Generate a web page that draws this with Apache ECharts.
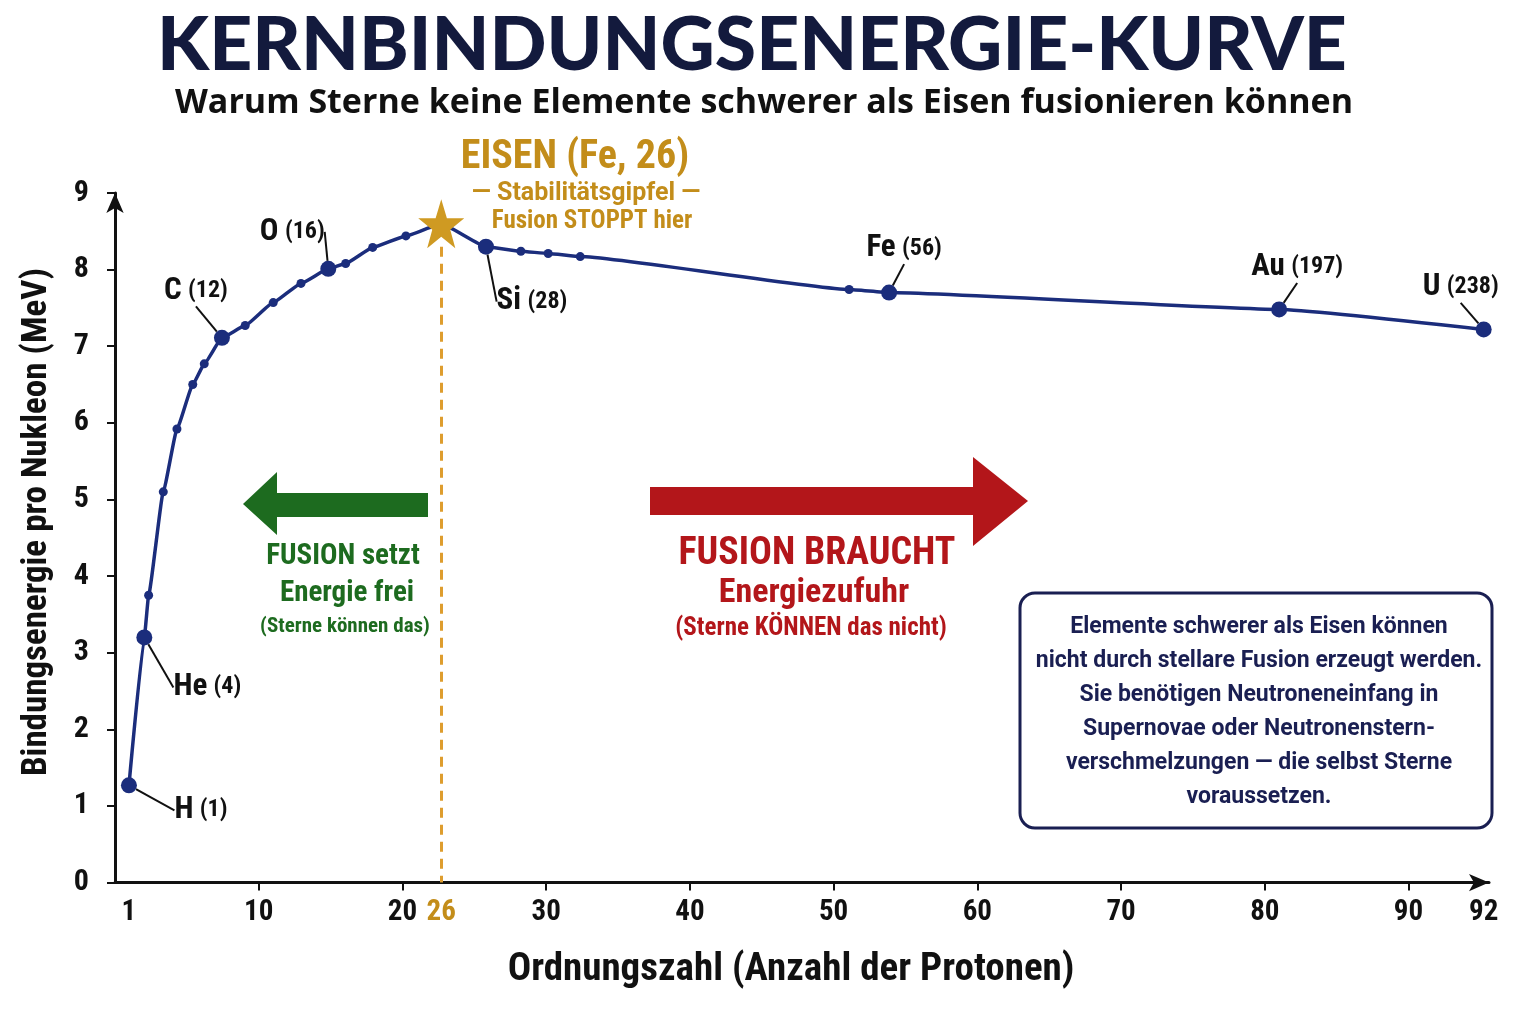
<!DOCTYPE html>
<html><head><meta charset="utf-8">
<script src="https://cdn.jsdelivr.net/npm/echarts@6/dist/echarts.min.js"></script>
<style>html,body{margin:0;padding:0;background:#fff}#c{width:1536px;height:1024px}</style>
</head><body><div id="c"></div>
<script>
// ---- data ----
const xPos   = [0.97, 2.04, 2.34, 3.36, 4.31, 5.41, 6.21, 7.44, 9.06, 11.01, 12.94, 14.84, 16.05, 17.93, 20.24, 22.70, 25.81, 28.24, 30.14, 32.37, 51.08, 53.86, 81.0, 95.23];
const energy = [1.27, 3.20, 3.75, 5.10, 5.92, 6.50, 6.77, 7.11, 7.27, 7.57, 7.82, 8.01, 8.08, 8.29, 8.44, 8.60, 8.30, 8.24, 8.21, 8.17, 7.74, 7.70, 7.48, 7.22];
const elementSym = ['H','He','','','','','','C','','','','O','','','','','Si','','','','','Fe','Au','U'];
const massNum    = [1, 4, null,null,null,null,null, 12, null,null,null, 16, null,null,null, null, 28, null,null,null, null, 56, 197, 238];
const xTickValues = [10, 20, 30, 40, 50, 60, 70, 80, 90];
const yTickValues = [0, 1, 2, 3, 4, 5, 6, 7, 8, 9];
const firstLabel = '1', peakLabel = '26', lastLabel = '92';

const peakIdx = energy.indexOf(Math.max(...energy));
const lastIdx = xPos.length - 1;

// ---- styles ----
const NAVY = '#1b2d7c', GOLD = '#c38d1a', GREEN = '#1d6b1f', RED = '#b3161a', BOXNAVY = '#1a1f52';
const COND = "'Roboto Condensed','Liberation Sans Narrow','DejaVu Sans Condensed',Roboto,sans-serif";
const REG = "Roboto,'Noto Sans',sans-serif";
const labelOffsets = { // label centre offset from point (px)
  0: [72, 25], 1: [63, 50], 7: [-26, -47], 11: [-36, -37], 16: [46, 55], 21: [15, -44], 22: [18, -42], 23: [-23, -42]
};

const labelAt = [xPos[0]].concat(xTickValues.slice(0, 2), [xPos[peakIdx]], xTickValues.slice(2), [xPos[lastIdx]]);
function xLabelFmt(v) {
  if (v === xPos[0]) return firstLabel;
  if (v === xPos[peakIdx]) return '{g|' + peakLabel + '}';
  if (v === xPos[lastIdx]) return lastLabel;
  return String(v);
}

const lineData = xPos.map((x, i) => {
  const item = { value: [x, energy[i]] };
  if (elementSym[i]) {
    item.label = { show: true };
    item.labelLine = { show: true };
  }
  return item;
});

const chart = echarts.init(document.getElementById('c'), null, { renderer: 'canvas' });
const starPath = 'path://M50,0 L61.8,35.1 L98.1,35.1 L68.8,56.7 L79.4,90.5 L50,69.6 L20.6,90.5 L31.2,56.7 L1.9,35.1 L38.2,35.1 Z';

chart.setOption({
  backgroundColor: '#ffffff',
  animation: false,
  grid: { left: 115, right: 47, top: 193, bottom: 141.4, containLabel: false },
  xAxis: {
    type: 'value', min: 0, max: 95.6,
    splitLine: { show: false },
    axisLine: { show: true, lineStyle: { color: '#111', width: 3 }, symbol: ['none', 'arrow'], symbolSize: [13, 20] },
    axisTick: { show: true, customValues: xTickValues, length: 8, lineStyle: { color: '#111', width: 2 } },
    axisLabel: {
      customValues: labelAt, formatter: xLabelFmt, margin: 16,
      fontFamily: COND, fontWeight: 'bold', fontSize: 29, color: '#111',
      rich: { g: { fontFamily: COND, fontWeight: 'bold', fontSize: 29, color: GOLD } }
    },
    name: 'Ordnungszahl (Anzahl der Protonen)', nameLocation: 'middle', nameGap: 68,
    nameTextStyle: { fontFamily: COND, fontWeight: 'bold', fontSize: 39, color: '#111', padding: [0, 22, 0, 0] }
  },
  yAxis: {
    type: 'value', min: 0, max: 9, interval: 1,
    splitLine: { show: false },
    axisLine: { show: true, lineStyle: { color: '#111', width: 3 }, symbol: ['none', 'arrow'], symbolSize: [13, 20] },
    axisTick: { show: true, length: 8, lineStyle: { color: '#111', width: 2 } },
    axisLabel: { customValues: yTickValues, margin: 26, fontFamily: COND, fontWeight: 'bold', fontSize: 30, color: '#111' }
  },
  series: [
    {
      type: 'line', data: lineData, smooth: 0.12, smoothMonotone: 'x', showAllSymbol: true, z: 3,
      symbol: 'circle',
      symbolSize: (v, p) => p.dataIndex === peakIdx ? 0 : (elementSym[p.dataIndex] ? 16 : 9),
      lineStyle: { color: NAVY, width: 3.5 },
      itemStyle: { color: NAVY, borderWidth: 0 },
      label: {
        show: false, position: 'inside',
        formatter: p => '{e|' + elementSym[p.dataIndex] + '} {n|(' + massNum[p.dataIndex] + ')}',
        rich: {
          e: { fontFamily: COND, fontWeight: 'bold', fontSize: 31, color: '#111' },
          n: { fontFamily: COND, fontWeight: 'bold', fontSize: 24, color: '#111', padding: [0, 0, 0, 3] }
        }
      },
      labelLine: { show: false, lineStyle: { color: '#111', width: 2 } },
      labelLayout: p => {
        const o = labelOffsets[p.dataIndex];
        return o ? { dx: o[0], dy: o[1] } : {};
      }
    },
    {
      type: 'scatter', z: 5, silent: true,
      data: [[xPos[peakIdx], energy[peakIdx]]],
      symbol: starPath, symbolSize: [46, 49],
      itemStyle: { color: '#cf9a22', opacity: 1 },
      markLine: {
        silent: true, symbol: ['none', 'none'], z: 1,
        lineStyle: { color: '#de9d2e', width: 3, type: [10, 7], opacity: 1 },
        label: { show: false },
        data: [[{ coord: [xPos[peakIdx], energy[peakIdx] - 0.3] }, { coord: [xPos[peakIdx], 0] }]]
      }
    }
  ],
  graphic: [
    { type: 'text', x: 752, y: 46, style: { text: 'KERNBINDUNGSENERGIE-KURVE', font: '900 75px Lato, "Open Sans", sans-serif', fill: '#131a3d', textAlign: 'center', textVerticalAlign: 'middle' } },
    { type: 'text', x: 764, y: 103, style: { text: 'Warum Sterne keine Elemente schwerer als Eisen fusionieren können', font: 'bold 34px "Open Sans", sans-serif', fill: '#111', textAlign: 'center', textVerticalAlign: 'middle' } },
    { type: 'text', x: 37, y: 522, rotation: Math.PI / 2, style: { text: 'Bindungsenergie pro Nukleon (MeV)', font: 'bold 35px ' + COND, fill: '#111', textAlign: 'center', textVerticalAlign: 'middle' } },
    { type: 'text', x: 575, y: 158, style: { text: 'EISEN (Fe, 26)', font: 'bold 40px ' + COND, fill: GOLD, textAlign: 'center', textVerticalAlign: 'middle' } },
    { type: 'text', x: 586, y: 194, style: { text: '— Stabilitätsgipfel —', font: 'bold 25px ' + REG, fill: GOLD, textAlign: 'center', textVerticalAlign: 'middle' } },
    { type: 'text', x: 592, y: 222, style: { text: 'Fusion STOPPT hier', font: 'bold 25px ' + COND, fill: GOLD, textAlign: 'center', textVerticalAlign: 'middle' } },
    // green arrow
    { type: 'polygon', shape: { points: [[428, 493], [277, 493], [277, 472], [243, 504], [277, 535], [277, 517], [428, 517]] }, style: { fill: GREEN } },
    { type: 'text', x: 343, y: 557, style: { text: 'FUSION setzt', font: 'bold 29px ' + COND, fill: GREEN, textAlign: 'center', textVerticalAlign: 'middle' } },
    { type: 'text', x: 347, y: 594, style: { text: 'Energie frei', font: 'bold 29px ' + COND, fill: GREEN, textAlign: 'center', textVerticalAlign: 'middle' } },
    { type: 'text', x: 345, y: 627, style: { text: '(Sterne können das)', font: 'bold 21px ' + COND, fill: GREEN, textAlign: 'center', textVerticalAlign: 'middle' } },
    // red arrow
    { type: 'polygon', shape: { points: [[650, 487], [973, 487], [973, 457], [1028, 501], [973, 546], [973, 515], [650, 515]] }, style: { fill: RED } },
    { type: 'text', x: 817, y: 554, style: { text: 'FUSION BRAUCHT', font: 'bold 38px ' + COND, fill: RED, textAlign: 'center', textVerticalAlign: 'middle' } },
    { type: 'text', x: 814, y: 593, style: { text: 'Energiezufuhr', font: 'bold 34px ' + COND, fill: RED, textAlign: 'center', textVerticalAlign: 'middle' } },
    { type: 'text', x: 811, y: 629, style: { text: '(Sterne KÖNNEN das nicht)', font: 'bold 25px ' + COND, fill: RED, textAlign: 'center', textVerticalAlign: 'middle' } },
    // info box
    { type: 'rect', shape: { x: 1020, y: 593, width: 472, height: 235, r: 15 }, style: { fill: '#fff', stroke: BOXNAVY, lineWidth: 3 } },
    { type: 'text', x: 1259, y: 610, style: {
        text: 'Elemente schwerer als Eisen können\nnicht durch stellare Fusion erzeugt werden.\nSie benötigen Neutroneneinfang in\nSupernovae oder Neutronenstern-\nverschmelzungen — die selbst Sterne\nvoraussetzen.',
        font: 'bold 23px ' + REG, lineHeight: 34, fill: BOXNAVY, textAlign: 'center', textVerticalAlign: 'top' } }
  ]
});
</script>
</body></html>
